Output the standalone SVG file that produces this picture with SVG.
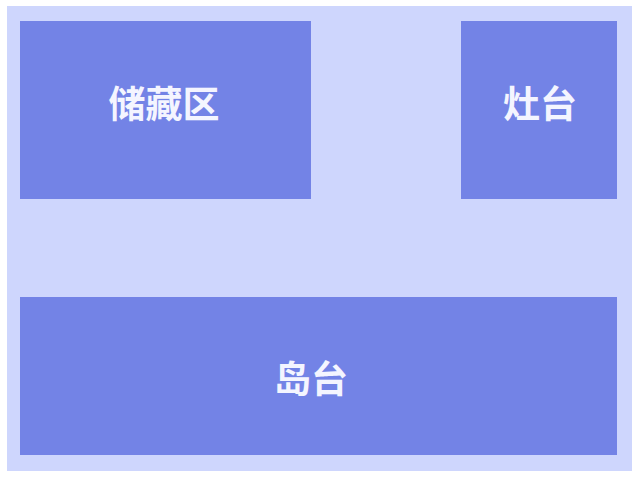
<svg xmlns="http://www.w3.org/2000/svg" width="640" height="480" viewBox="0 0 640 480">
<style>
.zone{fill:#7383E6;}
.lbl{font-family:"Noto Sans CJK SC","Noto Sans",sans-serif;font-weight:bold;font-size:37px;fill:#F4F5FF;text-anchor:middle;dominant-baseline:central;}
</style>
<rect x="0" y="0" width="640" height="480" fill="#FFFFFF"/>
<rect x="7" y="6" width="625" height="465" fill="#CED6FD"/>
<g id="storage"><rect class="zone" x="20" y="21" width="291" height="178"/><text class="lbl" x="164" y="102">储藏区</text></g>
<g id="stove"><rect class="zone" x="461" y="21" width="156" height="178"/><text class="lbl" x="540" y="102">灶台</text></g>
<g id="island"><rect class="zone" x="20" y="297" width="597" height="158"/><text class="lbl" x="311" y="377">岛台</text></g>
<g id="connectors"></g>
</svg>
